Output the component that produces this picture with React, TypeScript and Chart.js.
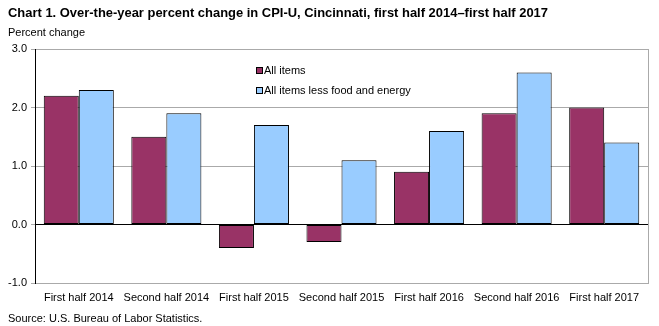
import React, { useEffect, useRef } from "react";
import { Chart, registerables } from "chart.js";

Chart.register(...registerables);

const categories = [
  "First half 2014",
  "Second half 2014",
  "First half 2015",
  "Second half 2015",
  "First half 2016",
  "Second half 2016",
  "First half 2017",
];
const allItems = [2.2, 1.5, -0.4, -0.3, 0.9, 1.9, 2.0];
const coreItems = [2.3, 1.9, 1.7, 1.1, 1.6, 2.6, 1.4];
const seriesNames = ["All items", "All items less food and energy"];
const seriesColors = ["#993366", "#99CCFF"];
const yTicks = ["-1.0", "0.0", "1.0", "2.0", "3.0"];

const titleText =
  "Chart 1. Over-the-year percent change in CPI-U, Cincinnati, first half 2014\u2013first half 2017";
const yAxisTitle = "Percent change";
const sourceText = "Source: U.S. Bureau of Labor Statistics.";

const FONT = "'Liberation Sans', Arial, sans-serif";

const decorPlugin = {
  id: "decor",
  afterDraw(chart: any) {
    const { ctx, chartArea } = chart;
    ctx.save();
    ctx.strokeStyle = "#aaaaaa";
    ctx.lineWidth = 1;
    ctx.beginPath();
    ctx.moveTo(Math.round(chartArea.right) + 0.5, chartArea.top);
    ctx.lineTo(Math.round(chartArea.right) + 0.5, chartArea.bottom);
    ctx.stroke();

    ctx.fillStyle = "#000";
    ctx.textBaseline = "alphabetic";
    ctx.textAlign = "left";
    ctx.font = `bold 13px ${FONT}`;
    ctx.fillText(titleText, 8, 17, 540);

    ctx.font = `11px ${FONT}`;
    ctx.textBaseline = "middle";
    ctx.fillText(yAxisTitle, 8, 33);
    ctx.fillText(sourceText, 8, 319);

    const items = [
      { label: seriesNames[0], color: seriesColors[0], y: 71 },
      { label: seriesNames[1], color: seriesColors[1], y: 91 },
    ];
    for (const it of items) {
      ctx.fillStyle = it.color;
      ctx.fillRect(257, it.y - 3, 5, 5);
      ctx.strokeStyle = "#000";
      ctx.strokeRect(256.5, it.y - 3.5, 6, 6);
      ctx.fillStyle = "#000";
      ctx.fillText(it.label, 264, it.y);
    }
    ctx.restore();
  },
};

export default function App() {
  const ref = useRef<HTMLCanvasElement>(null);
  useEffect(() => {
    if (!ref.current) return;
    const common = {
      borderColor: "#000",
      borderWidth: 1,
      borderSkipped: false as const,
      categoryPercentage: 0.8,
      barPercentage: 1,
    };
    const chart = new Chart(ref.current, {
      type: "bar",
      data: {
        labels: categories,
        datasets: [
          { label: seriesNames[0], data: allItems, backgroundColor: seriesColors[0], ...common },
          { label: seriesNames[1], data: coreItems, backgroundColor: seriesColors[1], ...common },
        ],
      },
      options: {
        animation: false,
        responsive: false,
        maintainAspectRatio: false,
        layout: { padding: { left: 0, top: 49, right: 11, bottom: 0 } },
        plugins: {
          legend: { display: false },
          title: { display: false },
          tooltip: { enabled: false },
        },
        scales: {
          x: {
            grid: { display: false, drawOnChartArea: false },
            border: { display: true, color: "#aaaaaa" },
            ticks: {
              color: "#000",
              font: { family: FONT, size: 11 },
              padding: 0,
              maxRotation: 0,
              autoSkip: false,
            },
            afterFit(scale: any) {
              scale.height = 43;
            },
          },
          y: {
            min: -1,
            max: 3,
            border: { display: true, color: "#000" },
            grid: {
              color: (c: any) => (c.tick && c.tick.value === 0 ? "#000" : "#aaaaaa"),
              tickLength: 4,
              tickColor: "#aaaaaa",
            },
            ticks: {
              stepSize: 1,
              color: "#000",
              font: { family: FONT, size: 11 },
              padding: 4,
              callback: (v: any) => yTicks[Math.round(Number(v)) + 1],
            },
            afterFit(scale: any) {
              scale.width = 35;
            },
          },
        },
      },
      plugins: [decorPlugin],
    });
    return () => chart.destroy();
  }, []);
  return (
    <div style={{ position: "fixed", left: 0, top: 0, width: 659, height: 326, background: "#fff" }}>
      <canvas ref={ref} width={659} height={326} style={{ display: "block" }} />
    </div>
  );
}
